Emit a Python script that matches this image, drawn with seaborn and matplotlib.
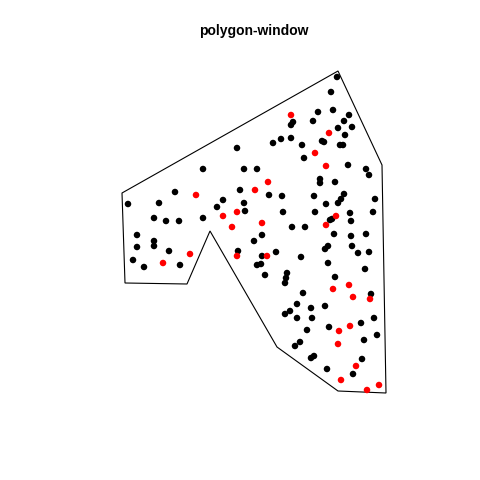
import numpy as np
import pandas as pd
import matplotlib
matplotlib.use("Agg")
import matplotlib.pyplot as plt
import seaborn as sns

# === Window outline (pixel-ish units, y down) ===
win_x = [122, 338, 382, 386, 338, 277, 210, 187, 125]
win_y = [193, 71, 165, 393, 391, 347, 231, 284, 283]

# === Points, split by mark ===
black_x = [203, 244, 257, 175, 240, 128, 159, 223, 244, 217, 245, 154, 166, 179, 203,
           137, 154, 154, 137, 169, 254, 238, 133, 144, 180, 257, 237,
           337, 331, 318, 333, 349, 293, 291, 313, 344, 352, 338, 345, 273, 281, 291,
           302, 322, 324, 340, 343, 304, 348, 366, 369, 320, 320, 335, 269, 282, 314,
           344, 375, 326, 338, 341,
           283, 315, 350, 373, 330, 332, 351, 292, 305, 262, 334, 351, 366, 328, 325,
           352, 276, 262, 301, 358, 369, 261, 265, 328, 365, 287, 286, 285, 335, 303, 371,
           297, 290, 285, 311, 325, 297, 312, 374, 361, 329, 307, 377, 300, 295, 364,
           314, 311, 362, 327, 353]
black_y = [169, 169, 169, 192, 190, 204, 203, 200, 203, 207, 211, 218, 221, 221, 218,
           235, 241, 246, 247, 251, 241, 251, 260, 267, 265, 265, 148,
           77, 92, 112, 110, 115, 122, 125, 121, 121, 127, 128, 135, 143, 139, 138,
           145, 141, 142, 145, 145, 158, 165, 169, 175, 179, 183, 182, 195, 196, 196,
           194, 199, 204, 203, 199,
           212, 212, 213, 212, 220, 219, 221, 227, 227, 235, 234, 236, 234, 246, 249,
           246, 252, 256, 257, 253, 252, 264, 275, 263, 269, 273, 278, 283, 277, 293, 294,
           304, 311, 314, 308, 306, 318, 318, 318, 323, 327, 330, 335, 342, 346, 340,
           356, 358, 359, 369, 374]
red_x = [196, 255, 237, 223, 232, 190, 237, 163, 291, 329, 315, 326, 268, 336,
         262, 326, 267, 333, 349, 353, 370, 350, 339, 338, 356, 341, 379, 367]
red_y = [195, 190, 212, 216, 227, 254, 256, 263, 115, 133, 153, 166, 182, 216,
         223, 225, 256, 289, 285, 297, 299, 326, 331, 344, 366, 380, 385, 390]

df = pd.DataFrame({
    "x": black_x + red_x,
    "y": black_y + red_y,
    "mark": ["a"] * len(black_x) + ["b"] * len(red_x),
})

sns.set_style("white")
fig = plt.figure(figsize=(4.8, 4.8), dpi=100)
ax = fig.add_axes([0, 0, 1, 1])

# window boundary
ax.fill(win_x, win_y, facecolor="none", edgecolor="black", linewidth=0.8)

sns.scatterplot(data=df, x="x", y="y", hue="mark",
                palette={"a": "black", "b": "red"},
                s=22, linewidth=0, legend=False, ax=ax)

ax.set_xlim(0, 480)
ax.set_ylim(480, 0)
ax.set_aspect("equal")
ax.axis("off")

fig.text(254 / 480, 1 - 31 / 480, "polygon-window", ha="center", va="center",
         fontsize=10, fontweight="bold", color="black",
         family=["Liberation Sans", "DejaVu Sans"])

fig.savefig("out.png", dpi=100)
